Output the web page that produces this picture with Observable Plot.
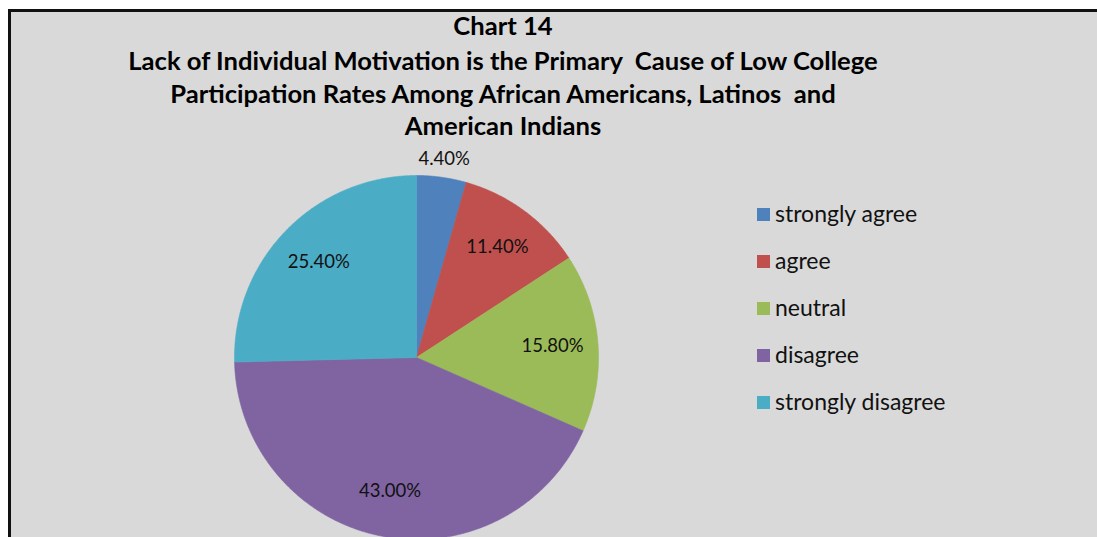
<!DOCTYPE html>
<html>
<head>
<meta charset="utf-8">
<script src="https://cdn.jsdelivr.net/npm/d3@7"></script>
<script src="https://cdn.jsdelivr.net/npm/@observablehq/plot@0.6"></script>
<style>
  html, body { margin: 0; padding: 0; background: #ffffff; overflow: hidden; }
  #page { position: relative; width: 1097px; height: 537px; overflow: hidden; }
  #frame { position: absolute; left: 8px; top: 9px; width: 1200px; height: 700px;
           background: #d9d9d9; border-left: 3px solid #111; border-top: 3px solid #111;
           box-sizing: border-box; }
  #title { position: absolute; left: 0; width: 1006px; top: 9px; text-align: center;
           font-family: Lato, "Open Sans", sans-serif; font-weight: 700; font-size: 25.6px;
           color: #000; white-space: pre; }
  #title div { height: 32.5px; line-height: 32.5px; }
  #title div:first-child { height: 35px; line-height: 32px; }
  #chart { position: absolute; left: 0; top: 0; }
  #legend { position: absolute; left: 757px; top: 198px; font-family: Lato, "Open Sans", sans-serif;
            font-size: 23px; color: #111; }
  .li { position: relative; height: 47px; line-height: 30px; white-space: nowrap; }
  .sw { display: inline-block; width: 13px; height: 13px; margin-right: 5px; vertical-align: 1px; }
</style>
</head>
<body>
<div id="page">
  <div id="frame"></div>
  <div id="chart"></div>
  <div id="title"></div>
  <div id="legend"></div>
</div>
<script>
// ---- data ----
const categories = ["strongly agree", "agree", "neutral", "disagree", "strongly disagree"];
const values = [4.4, 11.4, 15.8, 43.0, 25.4];
const labels = ["4.40%", "11.40%", "15.80%", "43.00%", "25.40%"];
const colors = ["#4f81bd", "#c0504d", "#9bbb59", "#8064a2", "#4bacc6"];
const titleLines = [
  "Chart 14",
  "Lack of Individual Motivation is the Primary  Cause of Low College",
  "Participation Rates Among African Americans, Latinos  and",
  "American Indians"
];

// ---- layout ----
const W = 1097, H = 537;
const cx = 416, cy = 357, R = 182;

// ---- title ----
const titleEl = document.getElementById("title");
titleLines.forEach(t => {
  const d = document.createElement("div");
  d.textContent = t;
  titleEl.appendChild(d);
});

// ---- pie geometry from data ----
const total = d3.sum(values);
const slices = [];
const labelRows = [];
let acc = 0;
values.forEach((v, i) => {
  const a0 = acc / total * 2 * Math.PI;
  acc += v;
  const a1 = acc / total * 2 * Math.PI;
  const n = Math.max(2, Math.ceil((a1 - a0) / (Math.PI / 360)));
  slices.push({key: categories[i], x: 0, y: 0});
  for (let k = 0; k <= n; k++) {
    const a = a0 + (a1 - a0) * k / n;
    slices.push({key: categories[i], x: Math.sin(a), y: Math.cos(a)});
  }
  slices.push({key: categories[i], x: 0, y: 0});
  const am = (a0 + a1) / 2;
  const rl = v < 5 ? 1.1 : 0.75;
  labelRows.push({key: categories[i], label: labels[i], x: rl * Math.sin(am), y: rl * Math.cos(am)});
});

const plot = Plot.plot({
  width: W,
  height: H,
  margin: 0,
  style: {background: "transparent", overflow: "visible"},
  x: {type: "linear", domain: [-cx / R, (W - cx) / R], range: [0, W], axis: null},
  y: {type: "linear", domain: [-(H - cy) / R, cy / R], range: [H, 0], axis: null},
  color: {type: "ordinal", domain: categories, range: colors},
  marks: [
    Plot.line(slices, {x: "x", y: "y", z: "key", fill: "key", stroke: "key", strokeWidth: 0.6, curve: "linear"}),
    Plot.text(labelRows, {x: "x", y: "y", text: "label", fontSize: 18.5,
      fontFamily: "Lato, 'Open Sans', sans-serif", fill: "#111"})
  ]
});
document.getElementById("chart").appendChild(plot);

// ---- legend ----
const leg = document.getElementById("legend");
categories.forEach((c, i) => {
  const row = document.createElement("div");
  row.className = "li";
  const sw = document.createElement("span");
  sw.className = "sw";
  sw.style.background = colors[i];
  row.appendChild(sw);
  row.appendChild(document.createTextNode(c));
  leg.appendChild(row);
});
</script>
</body>
</html>
